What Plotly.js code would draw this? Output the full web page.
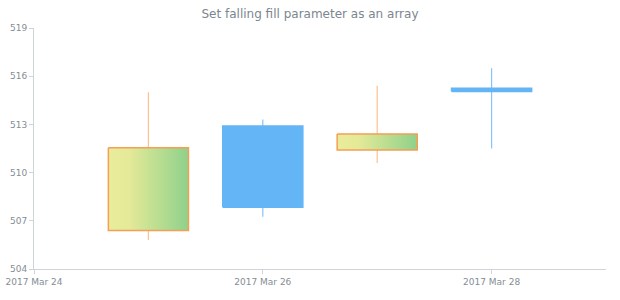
<!DOCTYPE html>
<html>
<head>
<meta charset="utf-8">
<script src="https://cdn.plot.ly/plotly-3.0.1.min.js"></script>
<style>html,body{margin:0;padding:0;background:#fff;}#chart{width:620px;height:300px;}</style>
</head>
<body>
<div id="chart"></div>
<script>
var dates = ['2017-03-25', '2017-03-26', '2017-03-27', '2017-03-28'];
var open  = [511.55, 507.85, 512.4, 515.05];
var high  = [515.0, 513.3, 515.4, 516.5];
var low   = [505.8, 507.25, 510.6, 511.5];
var close = [506.4, 512.9, 511.4, 515.25];
var xTickVals = ['2017-03-24', '2017-03-26', '2017-03-28'];
var xTickText = ['2017 Mar 24', '2017 Mar 26', '2017 Mar 28'];

var DAY = 86400000;
var halfW = 0.35 * DAY;
var risingFill = '#64b5f6', risingWick = '#86c3f7';
var fallingLine = '#f59f55', fallingWick = '#ffc08f';
var gradScale = [[0, '#e8ec9b'], [0.25, '#e5ea98'], [1, '#8fd18b']];

var traces = [];
var rwx = [], rwy = [], fwx = [], fwy = [];
for (var i = 0; i < dates.length; i++) {
  var c = Date.parse(dates[i] + 'T00:00:00Z');
  var rising = close[i] >= open[i];
  var wx = rising ? rwx : fwx, wy = rising ? rwy : fwy;
  wx.push(c, c, null); wy.push(high[i], low[i], null);
}
traces.push({type:'scatter', mode:'lines', x:rwx, y:rwy, line:{color:risingWick, width:1.2}, hoverinfo:'skip', showlegend:false});
traces.push({type:'scatter', mode:'lines', x:fwx, y:fwy, line:{color:fallingWick, width:1.2}, hoverinfo:'skip', showlegend:false});

for (var j = 0; j < dates.length; j++) {
  var cc = Date.parse(dates[j] + 'T00:00:00Z');
  var isRising = close[j] >= open[j];
  var bx = [cc - halfW, cc + halfW, cc + halfW, cc - halfW, cc - halfW];
  var by = [open[j], open[j], close[j], close[j], open[j]];
  var tr = {type:'scatter', mode:'lines', x:bx, y:by, fill:'toself', showlegend:false,
    hoverinfo:'skip'};
  if (isRising) {
    tr.fillcolor = risingFill;
    tr.line = {color: risingFill, width: 1.5};
  } else {
    tr.fillcolor = '#e8ec9b';
    tr.fillgradient = {type:'horizontal', colorscale: gradScale};
    tr.line = {color: fallingLine, width: 1.5};
  }
  traces.push(tr);
}

var layout = {
  width: 620, height: 300,
  margin: {l:34, r:14, t:28, b:31},
  paper_bgcolor: '#fff', plot_bgcolor: '#fff',
  font: {family: 'DejaVu Sans, Verdana, sans-serif', color: '#7c868e', size: 9},
  title: {text: 'Set falling fill parameter as an array', x: 0.5, xanchor: 'center', y: 0.955, yanchor: 'middle',
    font: {family: 'DejaVu Sans, Verdana, sans-serif', size: 12, color: '#7c868e'}},
  showlegend: false,
  xaxis: {type:'date', range:['2017-03-24', '2017-03-29'], tickvals: xTickVals,
    ticktext: xTickText, showgrid:false, zeroline:false, showline:true, linecolor:'#cfd4d8', linewidth:1,
    ticks:'outside', ticklen:4, tickcolor:'#cfd4d8', tickfont:{size:9, color:'#858d94'}, fixedrange:true},
  yaxis: {range:[504, 519], tick0:504, dtick:3, showgrid:false, zeroline:false, showline:true,
    linecolor:'#cfd4d8', linewidth:1, ticks:'outside', ticklen:4, tickcolor:'#cfd4d8',
    tickfont:{size:9, color:'#858d94'}, fixedrange:true}
};

Plotly.newPlot('chart', traces, layout, {displayModeBar:false, staticPlot:true});
</script>
</body>
</html>
